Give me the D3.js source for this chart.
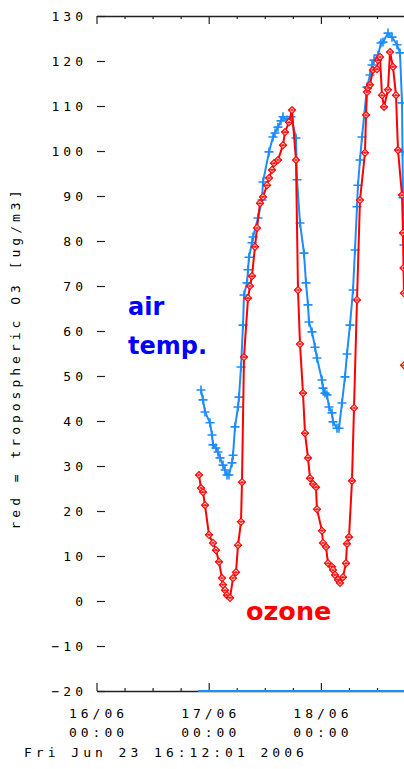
<!DOCTYPE html>
<html>
<head>
<meta charset="utf-8">
<script src="https://cdn.jsdelivr.net/npm/d3@7"></script>
<style>
body { margin: 0; background: #fff; }
svg text.mono { font-family: "DejaVu Sans Mono", monospace; font-size: 13px; letter-spacing: 4px; fill: #000; }
svg text.big { font-family: "DejaVu Sans", sans-serif; font-weight: bold; font-size: 24px; }
</style>
</head>
<body>
<svg id="chart" width="404" height="769"></svg>
<script>
// hours after 16/06/2006 00:00
const airHours = [22.35, 22.78, 23.21, 24.28, 24.71, 24.92, 25.56, 25.99, 26.42, 27.06, 27.49, 27.91, 28.34,
    28.98, 29.20, 29.63, 30.27, 30.48, 30.91, 31.34, 31.55, 32.19, 32.41, 32.62, 33.26, 33.48, 34.54, 35.40,
    35.61, 36.90, 37.75, 38.18, 38.82, 39.46, 39.89, 40.75, 41.60, 42.67, 42.89, 43.53, 44.38, 44.81, 45.24,
    45.45, 46.10, 46.74, 47.16, 48.23, 48.45, 48.88, 49.30, 49.73, 50.37, 50.59, 51.44, 51.87, 52.51, 53.15,
    53.58, 54.22, 54.87, 55.29, 55.72, 55.93, 56.36, 56.79, 57.86, 58.50, 58.93, 59.36, 60.21, 60.85, 61.28,
    62.35, 63.21, 64.28, 64.92, 65.35, 65.45, 65.56, 65.77];
const airValues = [46.9, 44.7, 42.0, 39.6, 36.9, 34.7, 34.0, 33.1, 31.8, 30.2, 29.1, 28.0, 28.0,
    30.7, 32.4, 38.7, 43.1, 45.3, 52.0, 61.3, 68.0, 70.7, 73.6, 76.4, 79.6, 80.9, 85.1, 89.1,
    93.1, 99.8, 103.1, 104.0, 105.3, 106.7, 107.6, 106.9, 107.6, 102.9, 93.6, 84.0, 77.3, 70.7, 65.8,
    62.0, 59.8, 56.4, 54.0, 49.1, 47.3, 46.2, 45.8, 43.1, 41.8, 39.8, 38.4, 38.4, 44.0, 49.8,
    54.9, 61.3, 69.1, 78.0, 87.6, 92.4, 98.0, 103.1, 114.2, 116.9, 119.1, 120.2, 121.3, 124.0, 124.2,
    126.2, 125.3, 123.6, 121.8, 110.7, 99.8, 89.6, 79.1];

const ozoneHours = [21.92, 22.35, 22.78, 23.21, 24.06, 24.92, 25.56, 26.20, 26.84, 27.06, 27.49, 27.91,
    28.56, 29.20, 29.84, 30.27, 30.91, 31.12, 31.55, 32.41, 32.83, 33.26, 33.90, 34.33, 34.97, 35.61,
    36.47, 36.90, 37.54, 37.97, 38.82, 39.89, 40.32, 41.18, 41.82, 42.67, 43.10, 43.53, 44.17, 44.60,
    45.24, 45.67, 46.31, 46.95, 47.16, 48.23, 48.45, 49.09, 49.52, 50.37, 50.59, 51.01, 51.66, 52.08,
    52.72, 53.36, 53.58, 54.01, 54.65, 55.08, 55.72, 56.36, 57.43, 57.65, 57.86, 58.07, 58.50, 59.14,
    60.00, 60.21, 60.64, 61.07, 61.50, 62.35, 62.78, 63.42, 64.06, 64.49, 65.35, 65.56, 65.67, 65.77,
    65.78, 65.79];
const ozoneValues = [28.0, 25.1, 24.2, 21.3, 14.7, 12.9, 11.3, 8.7, 5.1, 3.6, 2.4, 1.3,
    0.7, 5.1, 6.4, 12.4, 17.6, 26.4, 54.2, 67.3, 70.0, 72.2, 78.7, 82.9, 88.4, 89.8,
    92.4, 94.0, 95.8, 97.3, 98.0, 101.3, 104.2, 106.4, 109.1, 98.0, 69.1, 57.1, 46.2, 37.3,
    31.8, 27.3, 26.0, 25.3, 20.4, 15.6, 12.9, 12.0, 8.4, 7.6, 6.9, 5.8, 4.7, 4.0,
    5.3, 8.4, 12.7, 14.2, 26.7, 42.9, 66.9, 89.1, 99.6, 108.0, 113.1, 114.0, 114.7, 118.0,
    118.2, 120.2, 120.9, 112.4, 109.8, 113.6, 122.0, 118.7, 112.4, 100.2, 90.2, 81.8, 74.0, 68.4,
    null, 52.4];

// blue flag line lying on the lower border
const flagHours = [21.7, 72];
const flagValues = [-20, -20];

const yTicks = [-20, -10, 0, 10, 20, 30, 40, 50, 60, 70, 80, 90, 100, 110, 120, 130];
const dayTicks = [0, 24, 48];
const dayLabels = [["16/06", "00:00"], ["17/06", "00:00"], ["18/06", "00:00"]];
const yLabel = "red = tropospheric O3 [ug/m3]";
const footer = "Fri Jun 23 16:12:01 2006";

const t0 = new Date(2006, 5, 16, 0, 0);
const hour = h => new Date(t0.getTime() + h * 3600e3);

const svg = d3.select("#chart");
const x = d3.scaleTime().domain([hour(0), hour(72)]).range([96.5, 433.1]);
const y = d3.scaleLinear().domain([-20, 130]).range([691, 16]);

svg.append("clipPath").attr("id", "plot")
    .append("rect").attr("x", 96).attr("y", 14).attr("width", 340).attr("height", 680);

const axisColor = "#222";
const isMajor = d => d.getHours() === 0;

// bottom axis
const xAxisB = d3.axisBottom(x).ticks(d3.timeHour.every(6))
    .tickSizeInner(-8).tickSizeOuter(0).tickFormat(() => "");
const gB = svg.append("g").attr("transform", "translate(0,691)").call(xAxisB);
gB.selectAll(".tick line").attr("y2", d => isMajor(d) ? -8 : -3);

// top axis
const xAxisT = d3.axisTop(x).ticks(d3.timeHour.every(6))
    .tickSizeInner(-8).tickSizeOuter(0).tickFormat(() => "");
const gT = svg.append("g").attr("transform", "translate(0,16)").call(xAxisT);
gT.selectAll(".tick line").attr("y2", d => isMajor(d) ? 8 : 3);

[gB, gT].forEach(g => {
    g.select(".domain").attr("stroke", axisColor).attr("stroke-width", 1.5);
    g.selectAll(".tick line").attr("stroke", axisColor).attr("stroke-width", 1.2);
});

// day labels
dayTicks.forEach((h, i) => {
    const t = svg.append("text").attr("class", "mono").attr("text-anchor", "middle");
    dayLabels[i].forEach((s, j) => {
        t.append("tspan").attr("x", x(hour(h)) + 2).attr("y", 718 + j * 19).text(s);
    });
});

// y axis (tick dashes only)
const yAxis = d3.axisLeft(y).tickValues(yTicks).tickSize(8).tickPadding(10);
const gY = svg.append("g").attr("transform", "translate(105,0)").call(yAxis);
gY.select(".domain").remove();
gY.selectAll(".tick line").attr("stroke", axisColor).attr("stroke-width", 1.2);
gY.selectAll(".tick text").attr("class", "mono");
svg.selectAll("g").attr("font-family", null).attr("font-size", null);

svg.append("text").attr("class", "mono")
    .attr("text-anchor", "middle")
    .attr("transform", "translate(20,358) rotate(-90)")
    .text(yLabel);

svg.append("text").attr("class", "mono").attr("x", 24).attr("y", 757).text(footer);

// series
const plot = svg.append("g").attr("clip-path", "url(#plot)");
const line = d3.line().defined(d => d.v !== null).x(d => x(hour(d.h))).y(d => y(d.v));

const flag = flagHours.map((h, i) => ({ h, v: flagValues[i] }));
const air = airHours.map((h, i) => ({ h, v: airValues[i] }));
const ozone = ozoneHours.map((h, i) => ({ h, v: ozoneValues[i] }));

const blue = "#1e8cff", red = "#ff0000";

plot.append("path").datum(flag).attr("d", line)
    .attr("fill", "none").attr("stroke", blue).attr("stroke-width", 2);

plot.append("path").datum(air).attr("d", line)
    .attr("fill", "none").attr("stroke", blue).attr("stroke-width", 2);
plot.selectAll(".air").data(air).join("path").attr("class", "air")
    .attr("transform", d => `translate(${x(hour(d.h))},${y(d.v)})`)
    .attr("d", "M-4.5,0H4.5M0,-4.5V4.5")
    .attr("stroke", blue).attr("stroke-width", 1.6).attr("fill", "none");

plot.append("path").datum(ozone).attr("d", line)
    .attr("fill", "none").attr("stroke", red).attr("stroke-width", 2);
const om = plot.selectAll(".oz").data(ozone.filter(d => d.v !== null)).join("g").attr("class", "oz")
    .attr("transform", d => `translate(${x(hour(d.h))},${y(d.v)})`);
om.append("path").attr("d", "M0,-3.5L3.5,0L0,3.5L-3.5,0Z").attr("fill", "#fff")
    .attr("stroke", red).attr("stroke-width", 1.2);
om.append("path").attr("d", "M-3.5,0H3.5M0,-1.5V1.5").attr("stroke", red).attr("stroke-width", 1.1);

// in-chart labels
svg.append("text").attr("class", "big").attr("x", 128).attr("y", 315).attr("fill", "#0000ff").text("air");
svg.append("text").attr("class", "big").attr("x", 128).attr("y", 354).attr("fill", "#0000ff").text("temp.");
svg.append("text").attr("class", "big").attr("x", 246).attr("y", 620).attr("fill", red)
    .style("font-size", "25.5px").text("ozone");
</script>
</body>
</html>
